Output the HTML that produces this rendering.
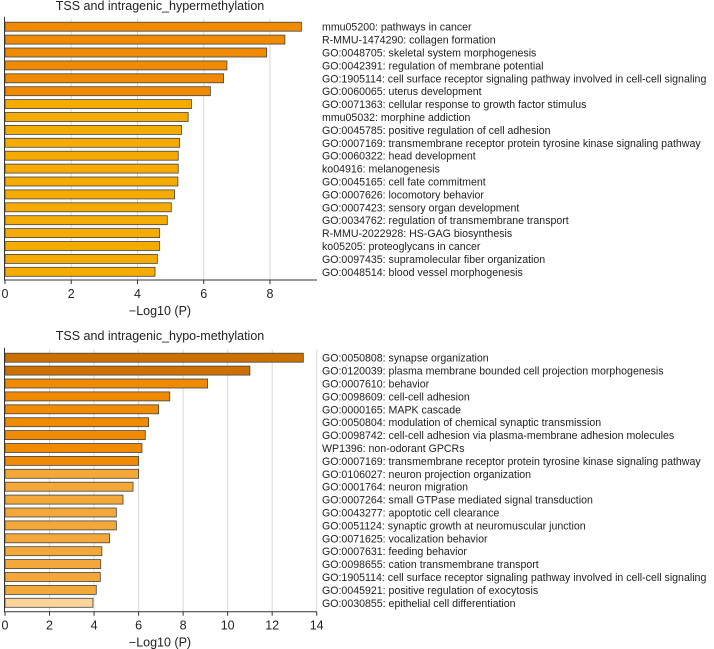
<!DOCTYPE html>
<html><head><meta charset="utf-8"><style>
body{margin:0;background:#fff;}
svg{display:block;font-family:"Liberation Sans",Arial,sans-serif;}
</style></head><body>
<svg id="s" width="714" height="649"></svg>
<script>
const topLabels=["mmu05200: pathways in cancer","R-MMU-1474290: collagen formation","GO:0048705: skeletal system morphogenesis","GO:0042391: regulation of membrane potential","GO:1905114: cell surface receptor signaling pathway involved in cell-cell signaling","GO:0060065: uterus development","GO:0071363: cellular response to growth factor stimulus","mmu05032: morphine addiction","GO:0045785: positive regulation of cell adhesion","GO:0007169: transmembrane receptor protein tyrosine kinase signaling pathway","GO:0060322: head development","ko04916: melanogenesis","GO:0045165: cell fate commitment","GO:0007626: locomotory behavior","GO:0007423: sensory organ development","GO:0034762: regulation of transmembrane transport","R-MMU-2022928: HS-GAG biosynthesis","ko05205: proteoglycans in cancer","GO:0097435: supramolecular fiber organization","GO:0048514: blood vessel morphogenesis"];
const topValues=[8.95,8.45,7.9,6.7,6.6,6.2,5.63,5.53,5.33,5.27,5.23,5.23,5.22,5.12,5.02,4.9,4.67,4.67,4.6,4.53];
const topColors=["#f08a00","#f08a00","#f08a00","#f08a00","#f08a00","#f08a00","#f5ab00","#f5ab00","#f5ab00","#f5ab00","#f5ab00","#f5ab00","#f5ab00","#f5ab00","#f5ab00","#f5ab00","#f5ab00","#f5ab00","#f5ab00","#f5ab00"];
const topTicks=[0,2,4,6,8];
const botLabels=["GO:0050808: synapse organization","GO:0120039: plasma membrane bounded cell projection morphogenesis","GO:0007610: behavior","GO:0098609: cell-cell adhesion","GO:0000165: MAPK cascade","GO:0050804: modulation of chemical synaptic transmission","GO:0098742: cell-cell adhesion via plasma-membrane adhesion molecules","WP1396: non-odorant GPCRs","GO:0007169: transmembrane receptor protein tyrosine kinase signaling pathway","GO:0106027: neuron projection organization","GO:0001764: neuron migration","GO:0007264: small GTPase mediated signal transduction","GO:0043277: apoptotic cell clearance","GO:0051124: synaptic growth at neuromuscular junction","GO:0071625: vocalization behavior","GO:0007631: feeding behavior","GO:0098655: cation transmembrane transport","GO:1905114: cell surface receptor signaling pathway involved in cell-cell signaling","GO:0045921: positive regulation of exocytosis","GO:0030855: epithelial cell differentiation"];
const botValues=[13.4,11.0,9.1,7.4,6.9,6.45,6.3,6.15,6.0,6.0,5.75,5.3,5.0,5.0,4.7,4.35,4.3,4.28,4.1,3.95];
const botColors=["#cc7000","#cc7000","#f08a00","#f08a00","#f08a00","#f08a00","#f08a00","#f08a00","#f08a00","#f5a83a","#f5a83a","#f5a83a","#f5a83a","#f5a83a","#f5a83a","#f5a83a","#f5a83a","#f5a83a","#f5a83a","#fdd49a"];
const botTicks=[0,2,4,6,8,10,12,14];

const svg=document.getElementById('s');
const NS='http://www.w3.org/2000/svg';
function mk(tag,attrs,parent){const e=document.createElementNS(NS,tag);for(const k in attrs)e.setAttribute(k,attrs[k]);(parent||svg).appendChild(e);return e;}

function panel(name,title,labels,values,colors,ticks,xmax,axisRight,titleY,firstY,axisY){
  const g=mk('g',{});
  
  
  const x0=5;
  const xs=v=>x0+v*(axisRight-x0)/xmax;
  const step=12.9;
  const yc=i=>firstY+i*step;
  const t=mk('text',{x:160,y:titleY,'text-anchor':'middle','font-size':12.5,fill:'#222'},g);
  t.textContent=title;
  
  
  ticks.forEach(v=>{
    if(v>0){const gl=mk('line',{x1:xs(v),x2:xs(v),y1:firstY-8,y2:axisY,stroke:'#d8d8d8','stroke-width':1},g);
    
    }
  });
  values.forEach((v,i)=>{
    const r=mk('rect',{x:x0,y:yc(i)-4.5,width:xs(v)-x0,height:9,fill:colors[i],stroke:'#444','stroke-width':0.8},g);
    
    
    const l=mk('text',{x:322,y:yc(i)+4,'font-size':10.6,fill:'#222'},g);
    l.textContent=labels[i];
    
    
  });
  const ya=mk('line',{x1:x0-0.5,x2:x0-0.5,y1:firstY-10,y2:axisY,stroke:'#333','stroke-width':1},g);
  
  
  const xa=mk('line',{x1:x0-1,x2:axisRight,y1:axisY,y2:axisY,stroke:'#333','stroke-width':1},g);
  
  
  ticks.forEach(v=>{
    const tk=mk('line',{x1:xs(v),x2:xs(v),y1:axisY,y2:axisY+4,stroke:'#333'},g);
    
    
    const tl=mk('text',{x:xs(v),y:axisY+18,'text-anchor':'middle','font-size':12.5,fill:'#222'},g);
    tl.textContent=v;
    
    
  });
  const xt=mk('text',{x:160,y:axisY+35,'text-anchor':'middle','font-size':12.5,fill:'#222'},g);
  xt.textContent='\u2212Log10 (P)';
  
  
}
panel('top-chart','TSS and intragenic_hypermethylation',topLabels,topValues,topColors,topTicks,9.42,317,10,26.7,280);
panel('bottom-chart','TSS and intragenic_hypo-methylation',botLabels,botValues,botColors,botTicks,14,316.7,340,357.7,611.7);
</script>
</body></html>
